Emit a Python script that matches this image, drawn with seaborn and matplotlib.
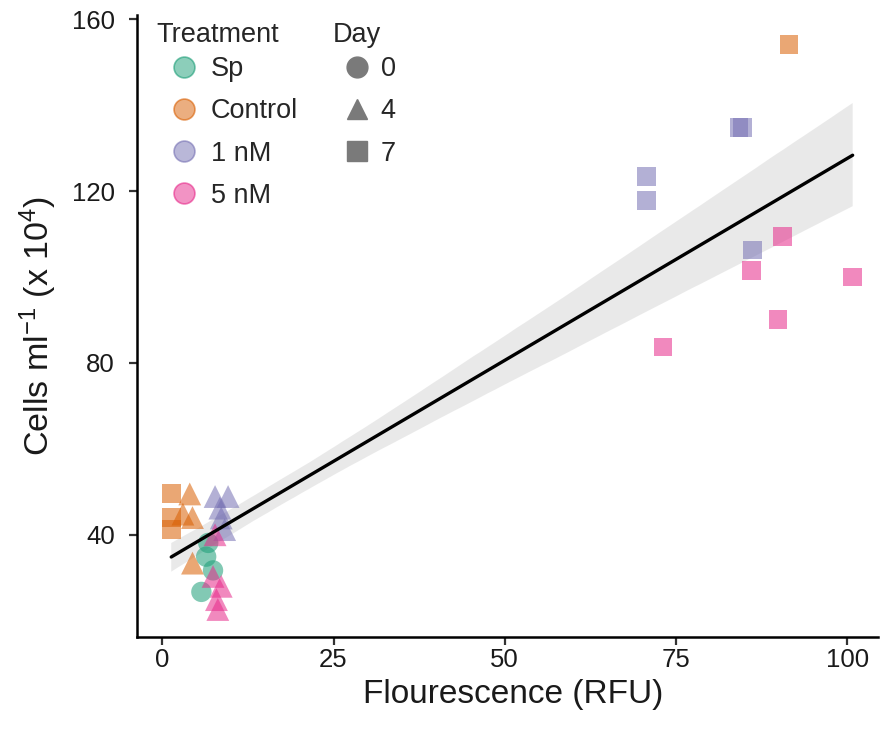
import numpy as np
import pandas as pd
import matplotlib
matplotlib.use("Agg")
import matplotlib.pyplot as plt
from matplotlib.lines import Line2D
import seaborn as sns

# ---- data ----
treatment = (["Sp"] * 4 + ["Control"] * 8 + ["1 nM"] * 10 + ["5 nM"] * 10)
day = ([0] * 4
       + [4] * 4 + [7] * 4
       + [4] * 5 + [7] * 5
       + [4] * 5 + [7] * 5)
fluorescence = [6.7, 6.4, 7.4, 5.7,
                4.0, 3.0, 4.4, 4.4,
                1.3, 1.3, 1.3, 91.5,
                7.7, 9.6, 8.4, 8.6, 9.1,
                84.2, 84.7, 70.7, 70.7, 86.2,
                7.7, 7.4, 8.6, 7.9, 8.1,
                73.1, 86.0, 90.5, 89.9, 100.8]
cells = [38.1, 34.9, 31.7, 26.7,
         49.5, 44.8, 44.0, 33.4,
         49.7, 44.0, 41.3, 154.2,
         48.9, 48.9, 46.2, 43.9, 41.2,
         134.8, 134.8, 123.3, 117.9, 106.3,
         40.0, 30.3, 28.0, 24.9, 22.6,
         83.7, 101.6, 109.4, 90.2, 100.0]

treat_order = ["Sp", "Control", "1 nM", "5 nM"]
treat_colors = ["#1B9E77", "#D95F02", "#7570B3", "#E7298A"]
day_order = [0, 4, 7]
day_markers = ["o", "^", "s"]
x_ticks = [0, 25, 50, 75, 100]
y_ticks = [40, 80, 120, 160]

df = pd.DataFrame({"Treatment": treatment, "Day": day,
                   "Fluorescence": fluorescence, "Cells": cells})

# ---- style ----
sns.set_theme(style="ticks")
plt.rcParams["font.family"] = ["Liberation Sans", "DejaVu Sans"]
plt.rcParams["mathtext.fontset"] = "custom"
plt.rcParams["mathtext.rm"] = "Liberation Sans"
plt.rcParams["mathtext.it"] = "Liberation Sans:italic"
plt.rcParams["mathtext.bf"] = "Liberation Sans:bold"

fig = plt.figure(figsize=(8.8, 7.31), dpi=100)
ax = fig.add_axes([137 / 880, 1 - 637 / 731, (878 - 137) / 880, (637 - 15) / 731])

palette = dict(zip(treat_order, treat_colors))
markers = dict(zip(day_order, day_markers))
marker_sizes = {0: 215, 4: 270, 7: 185}

# regression line + CI band
sns.regplot(data=df, x="Fluorescence", y="Cells", scatter=False, ci=85,
            n_boot=3000, seed=3,
            color="black", line_kws={"linewidth": 2.4, "zorder": 4}, ax=ax)
for coll in ax.collections:
    coll.set_facecolor("#e6e6e6")
    coll.set_alpha(0.85)
    coll.set_edgecolor("none")
    coll.set_zorder(1)

sns.scatterplot(data=df, x="Fluorescence", y="Cells", hue="Treatment",
                hue_order=treat_order, palette=palette, style="Day",
                style_order=day_order, markers=markers, size="Day",
                sizes=marker_sizes, alpha=0.55,
                linewidth=0, legend=False, zorder=3, ax=ax)

ax.set_xlim(-3.7, 104.5)
ax.set_ylim(16.2, 161)
ax.set_xticks(x_ticks)
ax.set_yticks(y_ticks)
ax.tick_params(axis="both", labelsize=18.5, length=6, width=1.6, color="#333333",
               labelcolor="#1a1a1a")
ax.tick_params(axis="y", pad=10)
ax.tick_params(axis="x", pad=2)
for side in ["top", "right"]:
    ax.spines[side].set_visible(False)
for side in ["left", "bottom"]:
    ax.spines[side].set_linewidth(1.8)
    ax.spines[side].set_color("black")

ax.set_xlabel("Flourescence (RFU)", fontsize=24, labelpad=5, color="#1a1a1a")
ax.xaxis.label.set_x(0.508)
ax.set_ylabel(r"Cells ml$^{-1}$ (x 10$^{4}$)", fontsize=24.5, labelpad=9, color="#1a1a1a")

# ---- legends ----
fs = 19.5
treat_handles = [Line2D([0], [0], marker="o", linestyle="none", markersize=15,
                        markerfacecolor=matplotlib.colors.to_rgba(c, 0.5),
                        markeredgecolor=matplotlib.colors.to_rgba(c, 0.6),
                        markeredgewidth=1.2)
                 for c in treat_colors]
leg1 = ax.legend(treat_handles, treat_order, title="Treatment", loc="upper left",
                 bbox_to_anchor=(-0.003, 1.024), frameon=False, fontsize=fs,
                 title_fontsize=fs, labelspacing=0.6, handlelength=2.07,
                 handletextpad=-0.07, alignment="left", borderaxespad=0.4)
leg1._legend_box.sep = 6
ax.add_artist(leg1)

day_handles = [Line2D([0], [0], marker=m, linestyle="none", markersize=15,
                      markerfacecolor="#7a7a7a", markeredgecolor="#7a7a7a")
               for m in day_markers]
leg2 = ax.legend(day_handles, [str(d) for d in day_order], title="Day",
                 loc="upper left", bbox_to_anchor=(0.235, 1.024), frameon=False,
                 fontsize=fs, title_fontsize=fs, labelspacing=0.6,
                 handlelength=1.77, handletextpad=0.0, alignment="left",
                 borderaxespad=0.4)
leg2._legend_box.sep = 6

fig.savefig("out.png", dpi=100)
